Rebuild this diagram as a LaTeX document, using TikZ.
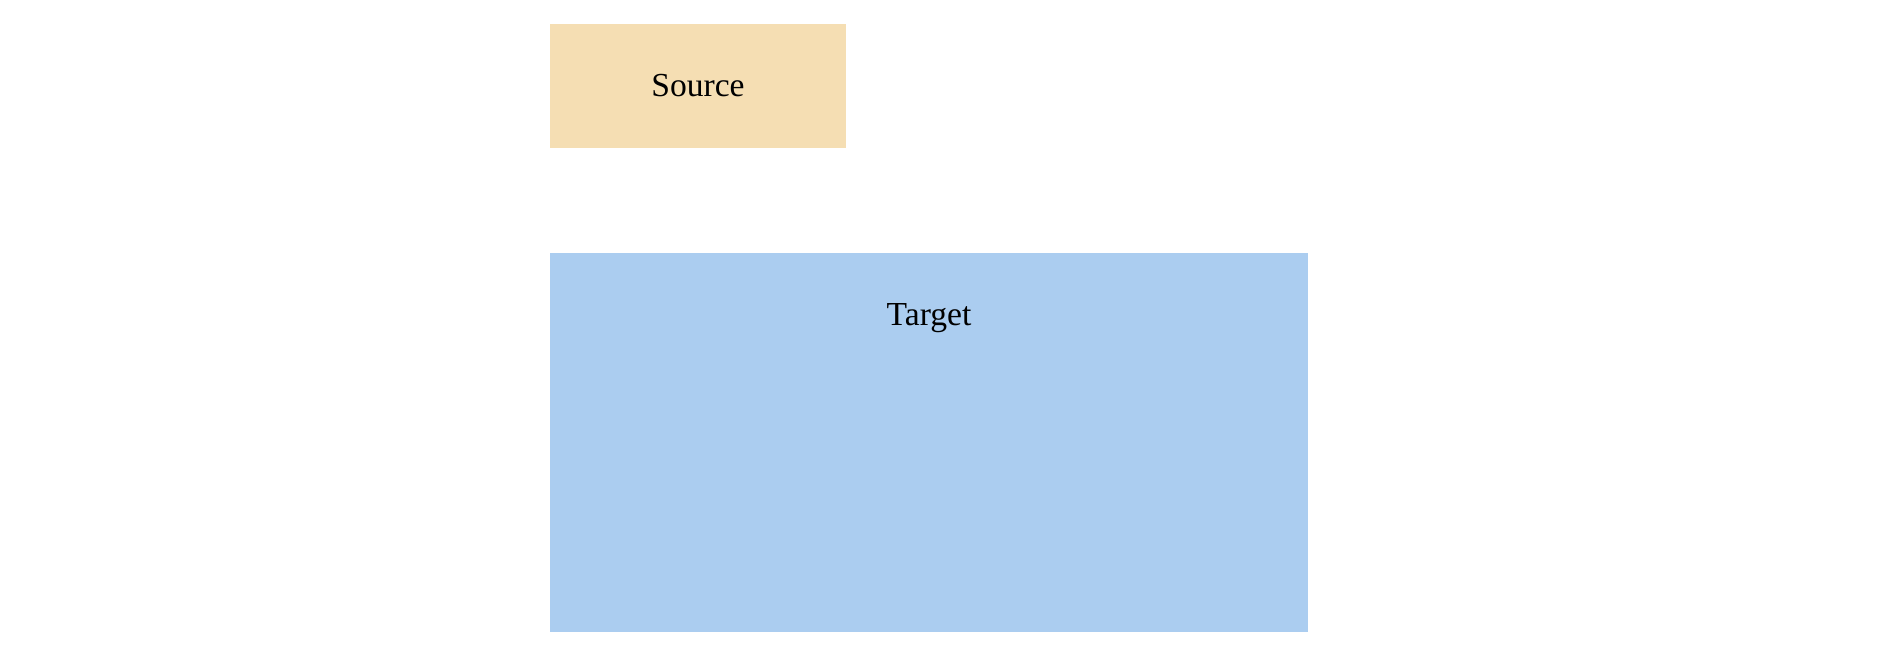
\documentclass[tikz,border=0pt]{standalone}
\usepackage{fontspec}
\setmainfont{Liberation Serif}
\definecolor{sourcefill}{HTML}{F5DEB3}
\definecolor{targetfill}{HTML}{ABCDF0}
\tikzset{box/.style={rectangle,draw=none,inner sep=0pt},
    every node/.style={font=\fontsize{16.8}{20}\selectfont}}

\begin{document}
\begin{tikzpicture}[x=0.5pt,y=-0.5pt]
    \draw[draw=none,use as bounding box] (0,0) rectangle (1880,653);
    \node[box,fill=sourcefill,minimum width=148pt,minimum height=61.75pt] (source) at (698,85.75) {Source};
    \node[box,fill=targetfill,minimum width=379pt,minimum height=189.5pt] (target) at (929,442.5) {};
    \node (targetlabel) at (929,318) {Target};
\end{tikzpicture}
\end{document}
